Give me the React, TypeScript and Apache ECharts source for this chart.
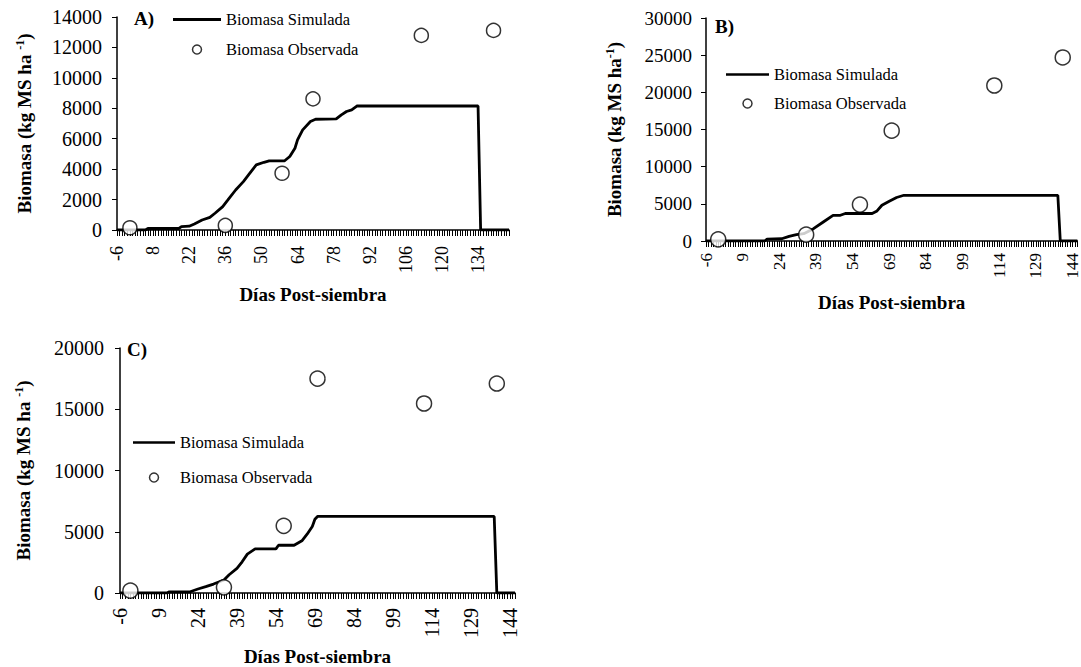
import React, { useEffect, useRef } from "react";
import * as echarts from "echarts";

// ---- Panel A ----
const simDaysA = [-6, 5, 6, 18, 19, 22, 24, 27, 30, 32, 35, 37, 40, 43, 45, 48, 51, 53, 59, 61, 63, 64, 66, 69, 71, 79, 81, 83, 85, 87, 134, 135, 146];
const simValsA = [0, 0, 100, 100, 220, 250, 400, 660, 830, 1100, 1540, 1975, 2630, 3180, 3620, 4280, 4450, 4540, 4550, 4830, 5375, 5920, 6580, 7130, 7280, 7300, 7570, 7790, 7900, 8150, 8150, 0, 0];
const obsDaysA = [-1, 36, 58, 70, 112, 140];
const obsValsA = [150, 300, 3730, 8620, 12790, 13120];

// ---- Panel B ----
const simDaysB = [-6, 18, 19, 25, 28, 31, 34, 38, 42, 46, 49, 51, 62, 64, 66, 69, 72, 75, 138, 139, 146];
const simValsB = [0, 0, 250, 300, 630, 850, 990, 1660, 2560, 3460, 3460, 3700, 3700, 4050, 4810, 5350, 5850, 6150, 6150, 0, 0];
const obsDaysB = [-1, 35, 57, 70, 112, 140];
const obsValsB = [225, 855, 4900, 14840, 20920, 24690];

// ---- Panel C ----
const simDaysC = [-6, 12, 13, 21, 24, 27, 30, 34, 36, 39, 41, 43, 46, 54, 55, 61, 64, 66, 68, 69, 70, 138, 139, 146];
const simValsC = [0, 0, 100, 100, 325, 515, 730, 1060, 1490, 2010, 2550, 3175, 3600, 3600, 3900, 3900, 4260, 4800, 5430, 6025, 6250, 6250, 0, 0];
const obsDaysC = [-2, 34, 57, 70, 111, 139];
const obsValsC = [190, 460, 5480, 17500, 15470, 17100];

const xLabelSteps = [14, 15, 15];
const xStart = -6;
const xEnd = 146;
const yMaxes = [14000, 30000, 20000];
const yIntervals = [2000, 5000, 5000];

const panelLabels = ["A)", "B)", "C)"];
const simName = "Biomasa Simulada";
const obsName = "Biomasa Observada";
const xTitle = "Días Post-siembra";
const yTitles = [
  "{b|Biomasa (kg MS ha }{s|-1}{b|)}",
  "{b|Biomasa (kg MS ha}{s|-1}{b|)}",
  "{b|Biomasa (kg MS ha }{s|-1}{b|)}",
];

const FONT = "'Liberation Serif', 'Times New Roman', serif";

function pairs(xs: number[], ys: number[]) {
  return xs.map((x, i) => [x, ys[i]]);
}

export default function App() {
  const ref = useRef<HTMLDivElement>(null);
  useEffect(() => {
    if (!ref.current) return;
    const chart = echarts.init(ref.current, undefined, { renderer: "svg" });

    const grids = [
      { left: 117, top: 17, width: 392, height: 213 },
      { left: 706, top: 18, width: 375, height: 223 },
      { left: 120, top: 348, width: 395, height: 246 },
    ];
    // per-panel look (the three panels were scaled differently in the source figure)
    const look = [
      { yFont: 20, yMargin: 15, xFont: 18, xMargin: 16, xGap: 55, yGap: 82, sym: 14 },
      { yFont: 19, yMargin: 14, xFont: 17, xMargin: 12, xGap: 52, yGap: 81, sym: 15 },
      { yFont: 20, yMargin: 16, xFont: 20, xMargin: 15, xGap: 54, yGap: 86, sym: 15 },
    ];

    const xAxes = grids.map((_, i) => ({
      type: "value",
      gridIndex: i,
      min: xStart,
      max: xEnd,
      interval: 1,
      name: xTitle,
      nameLocation: "middle",
      nameGap: look[i].xGap,
      nameTextStyle: { fontFamily: FONT, fontSize: 19, fontWeight: "bold", color: "#000" },
      axisLine: { show: true, onZero: false, lineStyle: { color: "#000", width: 1.5 } },
      axisTick: { show: true, length: 6, lineStyle: { color: "#000", width: 1 } },
      splitLine: { show: false },
      axisLabel: {
        rotate: 90,
        margin: look[i].xMargin,
        fontFamily: FONT,
        fontSize: look[i].xFont,
        color: "#000",
        showMinLabel: true,
        showMaxLabel: true,
        formatter: (v: number) => ((Math.round(v) - xStart) % xLabelSteps[i] === 0 ? String(Math.round(v)) : ""),
      },
    }));

    const yAxes = grids.map((_, i) => ({
      type: "value",
      gridIndex: i,
      min: 0,
      max: yMaxes[i],
      interval: yIntervals[i],
      name: yTitles[i],
      nameLocation: "middle",
      nameGap: look[i].yGap,
      nameTextStyle: {
        rich: {
          b: { fontFamily: FONT, fontSize: 19, fontWeight: "bold", color: "#000" },
          s: { fontFamily: FONT, fontSize: 12, fontWeight: "bold", color: "#000", verticalAlign: "top", padding: [0, 0, 9, 0] },
        },
      },
      axisLine: { show: true, onZero: false, lineStyle: { color: "#000", width: 1.5 } },
      axisTick: { show: true, length: 5, lineStyle: { color: "#000", width: 1 } },
      splitLine: { show: false },
      axisLabel: { fontFamily: FONT, fontSize: look[i].yFont, color: "#000", margin: look[i].yMargin, formatter: (v: number) => String(v) },
    }));

    const sims = [pairs(simDaysA, simValsA), pairs(simDaysB, simValsB), pairs(simDaysC, simValsC)];
    const obs = [pairs(obsDaysA, obsValsA), pairs(obsDaysB, obsValsB), pairs(obsDaysC, obsValsC)];

    const series: any[] = [];
    for (let i = 0; i < 3; i++) {
      series.push({
        id: "sim" + i,
        name: simName,
        type: "line",
        xAxisIndex: i,
        yAxisIndex: i,
        data: sims[i],
        symbol: "none",
        lineStyle: { color: "#000", width: 2.8 },
        itemStyle: { color: "#000" },
        z: 2,
      });
      series.push({
        id: "obs" + i,
        name: obsName,
        type: "scatter",
        xAxisIndex: i,
        yAxisIndex: i,
        data: obs[i],
        symbol: "circle",
        symbolSize: look[i].sym,
        itemStyle: { color: "#fff", borderColor: "#000", borderWidth: 1.5 },
        z: 3,
      });
    }

    const legendPos = [
      { left: 168, top: 6, itemGap: 13, itemWidth: 48, font: 16.5 },
      { left: 721, top: 61, itemGap: 12, itemWidth: 43, font: 16.5 },
      { left: 128, top: 429, itemGap: 18, itemWidth: 42, font: 16.5 },
    ];
    const legends = legendPos.map((p) => ({
      show: true,
      orient: "vertical",
      left: p.left,
      top: p.top,
      itemGap: p.itemGap,
      itemWidth: p.itemWidth,
      itemHeight: 9,
      symbolKeepAspect: true,
      selectedMode: false,
      data: [
        { name: simName, icon: "path://M0,0L16,0L16,1L0,1Z", itemStyle: { color: "#000" } },
        { name: obsName, icon: "circle", itemStyle: { color: "#fff", borderColor: "#000", borderWidth: 1.5 } },
      ],
      textStyle: { fontFamily: FONT, fontSize: p.font, color: "#000" },
    }));

    const labelPos = [
      { x: 134, y: 9 },
      { x: 715, y: 17 },
      { x: 127, y: 340 },
    ];

    chart.setOption({
      animation: false,
      backgroundColor: "#fff",
      grid: grids,
      xAxis: xAxes,
      yAxis: yAxes,
      legend: legends,
      series,
      graphic: labelPos.map((p, i) => ({
        type: "text",
        x: p.x,
        y: p.y,
        style: { text: panelLabels[i], fontFamily: FONT, fontSize: 19, fontWeight: "bold", fill: "#000" },
      })),
    });
    return () => chart.dispose();
  }, []);
  return <div ref={ref} style={{ position: "fixed", left: 0, top: 0, width: 1081, height: 667 }} />;
}
